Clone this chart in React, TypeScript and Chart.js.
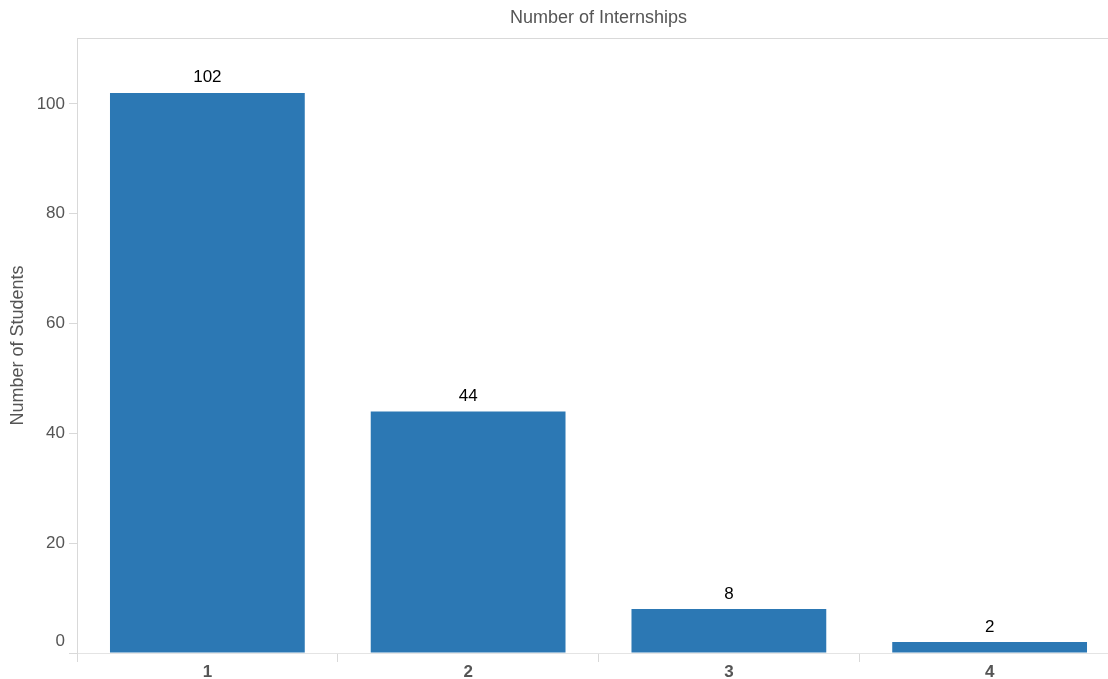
import React, { useEffect, useRef } from "react";
import { Chart, registerables } from "chart.js";

Chart.register(...registerables);

const categories = ["1", "2", "3", "4"];
const students = [102, 44, 8, 2];
const yMax = 112;
const yStep = 20;
const chartTitle = "Number of Internships";
const yTitle = "Number of Students";

const FONT = '"Liberation Sans", Arial, sans-serif';
const GRAY = "#555555";
const LINE = "#d9d9d9";

const labelPlugin = {
  id: "valueLabels",
  afterDatasetsDraw(chart: any) {
    const ctx = chart.ctx;
    const meta = chart.getDatasetMeta(0);
    ctx.save();
    ctx.font = `17px ${FONT}`;
    ctx.fillStyle = "#000";
    ctx.textAlign = "center";
    ctx.textBaseline = "alphabetic";
    meta.data.forEach((bar: any, i: number) => {
      ctx.fillText(String(chart.data.datasets[0].data[i]), bar.x, bar.y - 10.5);
    });
    // zero tick label, lifted above the baseline
    const y = chart.scales.y;
    ctx.font = `17px ${FONT}`;
    ctx.fillStyle = GRAY;
    ctx.textAlign = "right";
    ctx.textBaseline = "middle";
    ctx.fillText("0", y.right - 12, y.getPixelForValue(0) - 12);
    ctx.restore();
  },
};

export default function App() {
  const ref = useRef<HTMLCanvasElement>(null);
  useEffect(() => {
    if (!ref.current) return;
    const chart = new Chart(ref.current, {
      type: "bar",
      data: {
        labels: categories,
        datasets: [
          {
            data: students,
            backgroundColor: "#2c78b4",
            categoryPercentage: 1,
            barPercentage: 0.747,
            xAxisID: "x",
            yAxisID: "y",
          },
        ],
      },
      plugins: [labelPlugin],
      options: {
        animation: false,
        responsive: false,
        layout: { padding: 0 },
        plugins: {
          legend: { display: false },
          tooltip: { enabled: false },
        },
        scales: {
          x: {
            type: "category",
            position: "bottom",
            grid: {
              offset: true,
              drawOnChartArea: false,
              drawTicks: true,
              tickLength: 9,
              color: LINE,
            },
            border: { display: true, color: "#e4e4e4" },
            ticks: {
              padding: 0,
              color: GRAY,
              font: { family: FONT, size: 17, weight: "bold" },
              maxRotation: 0,
            },
            afterFit: (s: any) => {
              s.height = 26;
            },
          },
          x2: {
            type: "category",
            position: "top",
            labels: categories,
            grid: { display: false },
            border: { display: true, color: LINE },
            ticks: { display: false },
            title: {
              display: true,
              text: chartTitle,
              color: GRAY,
              font: { family: FONT, size: 18 },
              padding: { top: 7, bottom: 0 },
            },
            afterFit: (s: any) => {
              s.height = 38;
            },
          },
          y: {
            min: 0,
            max: yMax,
            grid: {
              drawOnChartArea: false,
              drawTicks: true,
              tickLength: 8,
              color: LINE,
            },
            border: { display: true, color: LINE },
            ticks: {
              stepSize: yStep,
              includeBounds: false,
              padding: 4,
              color: GRAY,
              font: { family: FONT, size: 17 },
              callback: (v: any) => (v === 0 ? "" : String(v)),
            },
            title: {
              display: true,
              text: yTitle,
              color: GRAY,
              font: { family: FONT, size: 18 },
              padding: { top: 7, bottom: 0 },
            },
            afterFit: (s: any) => {
              s.width = 77;
            },
          },
        },
      },
    } as any);
    return () => chart.destroy();
  }, []);

  return (
    <div
      style={{
        position: "fixed",
        left: 0,
        top: 0,
        width: 1108,
        height: 679,
        overflow: "hidden",
        background: "#fff",
      }}
    >
      <canvas ref={ref} width={1120} height={679} style={{ display: "block" }} />
    </div>
  );
}
